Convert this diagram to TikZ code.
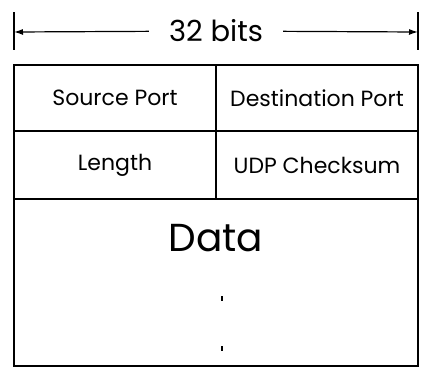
\documentclass[tikz,border=0pt]{standalone}
\usepackage{fontspec}
\setmainfont{Poppins}
\usetikzlibrary{arrows.meta}
\tikzset{
	cell/.style = {draw, line width = 1.4pt, minimum width = 202pt, inner sep = 0pt, font = \fontsize{22}{26}\selectfont},
	width/.style = {line width = 1.2pt, -{Latex[length = 9pt, width = 6pt]}}
}
\begin{document}
\begin{tikzpicture}[x = 1pt, y = -1pt]
		\useasboundingbox (0, 0) rectangle (422, 367);
		% width marker
		\foreach \x/\side in {14/l, 418/r}{
			\coordinate (\side top) at (\x, 12);
			\coordinate (\side bot) at (\x, 50);
			\coordinate (\side mid) at (\x, 32);
			\draw [line width = 1.2pt] (\side top) -- (\side bot);}
		\node [inner xsep = 20pt, font = \fontsize{29}{34}\selectfont] (bits) at (216, 31) {32 bits};
		\draw [width] (bits) -- (lmid);
		\draw [width] (bits) -- (rmid);
		% header fields
		\node [cell, minimum height = 66pt] (src) at (115, 98) {Source Port};
		\node [cell, minimum height = 66pt] (dst) at (317, 98) {Destination Port};
		\node [cell, minimum height = 68pt] (len) at (115, 165) {Length};
		\node [cell, minimum height = 68pt] (sum) at (317, 165) {UDP Checksum};
		\node [cell, minimum width = 404pt, minimum height = 167pt] (data) at (216, 282.5) {};
		\node [font = \fontsize{39}{44}\selectfont] (datatxt) at (216, 238) {Data};
		\foreach \y in {298, 348}{
			\fill (221, \y - 2.5) rectangle (223, \y + 2.5);}
		\end{tikzpicture}
\end{document}
